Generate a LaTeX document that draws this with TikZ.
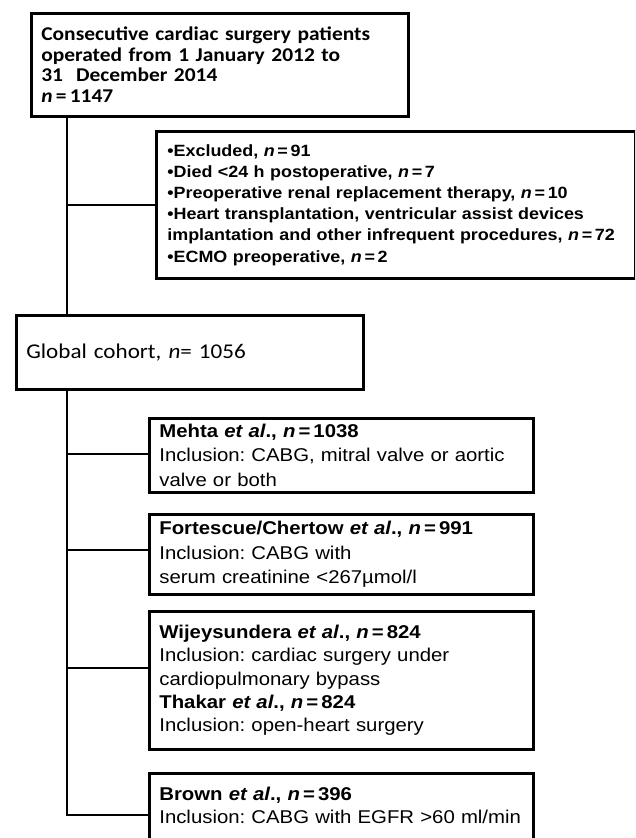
\documentclass[tikz,border=0pt]{standalone}
\usepackage{fontspec}
\usepackage{tikz}
\newfontfamily\calibri[FakeStretch=1.1]{Carlito}
\newfontfamily\arial[FakeStretch=1.1]{Liberation Sans}
\frenchspacing
\tikzstyle{box} = [draw, line width=2.7pt, anchor=north west, inner xsep=10pt, inner ysep=0pt, align=left]
\tikzstyle{link} = [line width=2.7pt]
\newcommand{\ncount}[1]{\textit{n}\,=\,#1}
\newcommand{\etaltext}{\textit{et al}.}

\begin{document}
\begin{tikzpicture}[x=1pt, y=-1pt]
  \useasboundingbox (0,0) rectangle (635,838);
  \clip (0,0) rectangle (635,838);
  \coordinate (spine) at (67,0);

  \node[box, minimum width=377pt, minimum height=103pt, text width=357pt,
        font=\calibri\bfseries\fontsize{19.5}{20.5}\selectfont] (start) at (30,12)
    {Consecutive cardiac surgery patients\\operated from 1 January 2012 to\\31~ December 2014\\\ncount{1147}};
  \node[box, inner xsep=11pt, minimum width=479pt, minimum height=147pt, text width=457pt,
        font=\arial\bfseries\fontsize{16.3}{21.2}\selectfont] (excl) at (155,130)
    {•Excluded, \ncount{91}\\
     •Died <24 h postoperative, \ncount{7}\\
     •Preoperative renal replacement therapy, \ncount{10}\\
     •Heart transplantation, ventricular assist devices\\
     \mbox{implantation and other infrequent procedures, \ncount{72}}\\
     •ECMO preoperative, \ncount{2}};
  \node[box, minimum width=347pt, minimum height=74pt, text width=327pt,
        font=\calibri\fontsize{21}{24}\selectfont] (global) at (15,314)
    {Global cohort, \textit{n}= 1056};

  \begin{scope}[every node/.append style={minimum width=384pt, text width=364pt,
        font=\arial\fontsize{18.5}{24.3}\selectfont}]
    \node[box, minimum height=74pt] (mehta) at (148,417)
      {\textbf{Mehta \etaltext, \ncount{1038}}\\Inclusion: CABG, mitral valve or aortic\\valve or both};
    \node[box, minimum height=80pt] (fort) at (148,513)
      {\textbf{Fortescue/Chertow \etaltext, \ncount{991}}\\Inclusion: CABG with\\serum creatinine <267µmol/l};
    \node[box, minimum height=138pt, font=\arial\fontsize{18.5}{23.3}\selectfont] (wijey) at (148,610)
      {\textbf{Wijeysundera \etaltext, \ncount{824}}\\Inclusion: cardiac surgery under\\cardiopulmonary bypass\\
       \textbf{Thakar \etaltext, \ncount{824}}\\Inclusion: open-heart surgery};
    \node[box, inner ysep=14pt, text depth=70pt, font=\arial\fontsize{18.5}{22.5}\selectfont] (brown) at (148,772)
      {\textbf{Brown \etaltext, \ncount{396}}\\\mbox{Inclusion: CABG with EGFR >60 ml/min}};
  \end{scope}

  % trunk and branches
  \draw[link] (start.south -| spine) -- (global.north -| spine);
  \draw[link] (excl.west) -- (excl.west -| spine);
  \draw[link] (global.south -| spine) |- ([yshift=-43pt]brown.north west);
  \foreach \study/\drop in {mehta/37, fort/37, wijey/58}
    \draw[link] ([yshift=-\drop pt]\study.north west) coordinate (b) -- (b -| spine);
\end{tikzpicture}
\end{document}
